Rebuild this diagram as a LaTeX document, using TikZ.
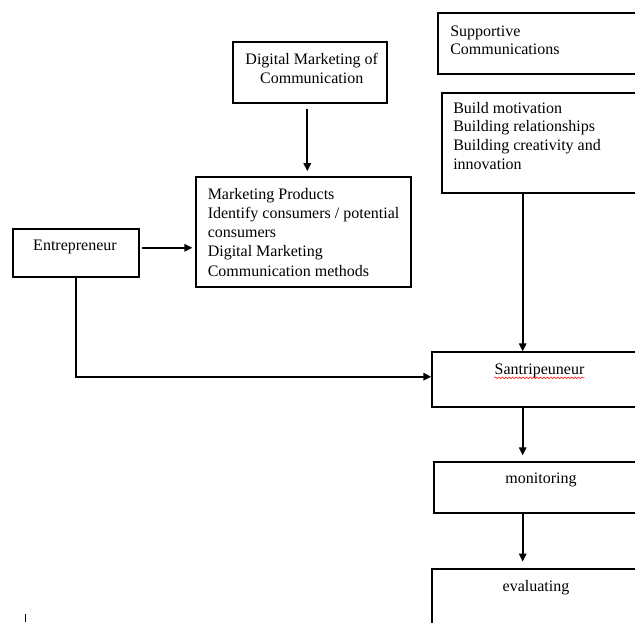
\documentclass[tikz,border=0pt]{standalone}
\usepackage{fontspec}
\setmainfont{Liberation Serif}
\usetikzlibrary{arrows.meta,fit,decorations.pathmorphing}
\begin{document}
\begin{tikzpicture}[x=0.75pt,y=-0.75pt,
  box/.style={draw=black,line width=1.5pt,inner sep=0pt,fit={#1}},
  txt/.style={inner sep=0pt,font=\fontsize{12pt}{13.8pt}\selectfont},
  arr/.style={line width=1.35pt,-{Triangle[length=6pt,width=5.5pt]}},
  conn/.style={line width=1.35pt}]
\useasboundingbox (0,0) rectangle (635,622);
\clip (0,0) rectangle (635,622);
\fill[white] (0,0) rectangle (635,622);
% boxes
\node[box={(232.7,41.7)(386.7,103.3)}] (dm) {};
\node[box={(196,177.3)(410.7,287.3)}] (mk) {};
\node[box={(13.3,229)(139.3,276.7)}] (ent) {};
\node[box={(438.3,13.3)(645,74)}] (sup) {};
\node[box={(442.3,92.7)(645,192.7)}] (bm) {};
\node[box={(432.3,352.3)(645,406.7)}] (sa) {};
\node[box={(434,461.7)(645,513.3)}] (mo) {};
\node[box={(432.3,569.3)(645,640)}] (ev) {};
% texts
\node[txt,align=center,anchor=north,font=\fontsize{12pt}{14.3pt}\selectfont] (dmt) at (311.7,52.5) {Digital Marketing of\\Communication};
\node[txt,align=left,anchor=north west,font=\fontsize{12pt}{14.4pt}\selectfont] (mkt) at (207.5,188) {Marketing Products\\Identify consumers / potential\\consumers\\Digital Marketing\\Communication methods};
\node[txt,anchor=base] (entt) at (75,250) {Entrepreneur};
\node[txt,align=left,anchor=north west] (supt) at (450,25.7) {Supportive\\Communications};
\node[txt,align=left,anchor=north west,font=\fontsize{12pt}{14pt}\selectfont] (bmt) at (453,101.7) {Build motivation\\Building relationships\\Building creativity and\\innovation};
\node[txt,anchor=base] (sat) at (539.5,374.3) {Santripeuneur};
\node[txt,anchor=base] (mot) at (541,483.3) {monitoring};
\node[txt,anchor=base] (evt) at (536,591.7) {evaluating};
\draw[red,line width=0.4pt,decorate,decoration={snake,amplitude=0.6pt,segment length=2.6pt}]
  ([yshift=-2.6pt]sat.base west) -- ([yshift=-2.6pt]sat.base east);
% column for vertical arrows
\coordinate (colx) at (522.7,0);
% connectors
\draw[arr,shorten <=3.8pt,shorten >=3.8pt] ([xshift=-1.8pt]dm.south) -- ([xshift=-1.8pt]dm.south |- mk.north);
\draw[arr,shorten <=1.5pt,shorten >=2pt] ([yshift=3.8pt]ent.east) -- ([yshift=3.8pt]ent.east -| mk.west);
\draw[arr] (ent.south) |- ([yshift=2.1pt]sa.west);
\draw[arr] (bm.south -| colx) -- (sa.north -| colx);
\draw[arr,shorten >=4pt] (sa.south -| colx) -- (mo.north -| colx);
\draw[arr,shorten >=5pt] (mo.south -| colx) -- (ev.north -| colx);
% stray mark at bottom left
\coordinate (mka) at (25.5,614);
\coordinate (mkb) at (25.5,622);
\draw[line width=1.4pt] (mka) -- (mkb);
\end{tikzpicture}
\end{document}
